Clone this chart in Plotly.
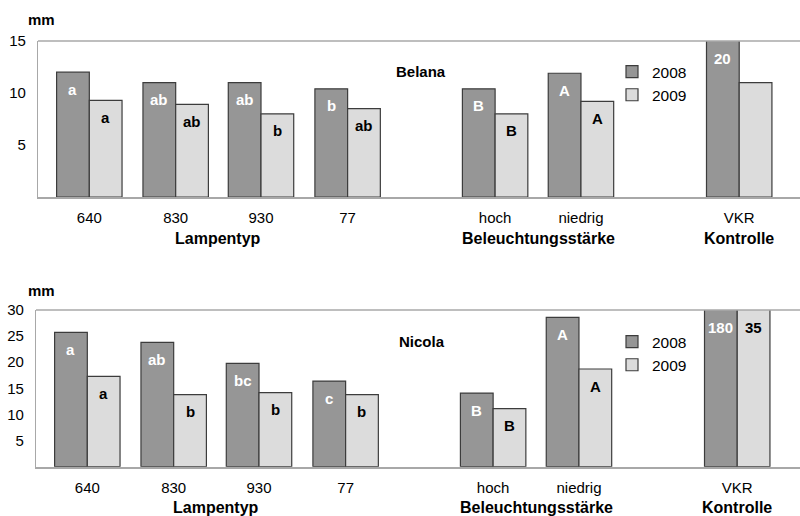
import plotly.graph_objects as go

# ---- data ----
categories = ["640", "830", "930", "77", "hoch", "niedrig", "VKR"]
groups = ["Lampentyp", "Beleuchtungsstärke", "Kontrolle"]
group_members = [[0, 1, 2, 3], [4, 5], [6]]
years = ["2008", "2009"]

belana_2008 = [12.0, 11.0, 11.0, 10.4, 10.4, 11.9, 20.0]
belana_2009 = [9.3, 8.9, 8.0, 8.5, 8.0, 9.2, 11.0]
belana_letters_2008 = ["a", "ab", "ab", "b", "B", "A", "20"]
belana_letters_2009 = ["a", "ab", "b", "ab", "B", "A", ""]

nicola_2008 = [25.7, 23.8, 19.8, 16.4, 14.1, 28.6, 180.0]
nicola_2009 = [17.3, 13.8, 14.2, 13.8, 11.1, 18.7, 35.0]
nicola_letters_2008 = ["a", "ab", "bc", "c", "B", "A", "180"]
nicola_letters_2009 = ["a", "b", "b", "b", "B", "A", "35"]

belana_ticks = [5, 10, 15]
nicola_ticks = [5, 10, 15, 20, 25, 30]

# ---- layout helpers (positions / styles) ----
x_pos = [0, 1.003, 1.994, 3.0, 4.713, 5.71, 7.548]
BAR_W = 0.38
C08 = "#969696"
C09 = "#dcdcdc"
OUT = "#3c3c3c"
AX = "#a8a8a8"
FONT = "Liberation Sans, Arial, sans-serif"
W, H = 800, 516

panels = [
    dict(name="Belana", v08=belana_2008, v09=belana_2009, l08=belana_letters_2008,
         l09=belana_letters_2009, ticks=belana_ticks, ymax=15,
         xdom=[38 / W, 1], ydom=[1 - 197 / H, 1 - 41 / H], xr=[-0.596, 8.254],
         mm_y=20, title_xy=(421, 71), legend_y=55, legend="legend"),
    dict(name="Nicola", v08=nicola_2008, v09=nicola_2009, l08=nicola_letters_2008,
         l09=nicola_letters_2009, ticks=nicola_ticks, ymax=30,
         xdom=[36 / W, 1], ydom=[1 - 466.7 / H, 1 - 310 / H], xr=[-0.596, 8.277],
         mm_y=290, title_xy=(422, 341), legend_y=325, legend="legend2"),
]

fig = go.Figure()
annotations = []
shapes = []
layout = {}

for i, p in enumerate(panels):
    xa = "x" if i == 0 else "x2"
    ya = "y" if i == 0 else "y2"
    xkey = "xaxis" if i == 0 else "xaxis2"
    ykey = "yaxis" if i == 0 else "yaxis2"

    for yr, vals, col, off in [(years[0], p["v08"], C08, -BAR_W), (years[1], p["v09"], C09, 0)]:
        fig.add_trace(go.Bar(
            x=x_pos, y=vals, name=yr, xaxis=xa, yaxis=ya,
            width=[BAR_W] * len(x_pos), offset=[off] * len(x_pos),
            marker=dict(color=col, line=dict(color=OUT, width=1.2)),
            legend=p["legend"], showlegend=True, hoverinfo="skip",
        ))

    # letters on bars
    for letters, vals, dx, tc in [(p["l08"], p["v08"], -BAR_W / 2, "white"),
                                   (p["l09"], p["v09"], BAR_W / 2, "black")]:
        for xp, v, t in zip(x_pos, vals, letters):
            if not t:
                continue
            annotations.append(dict(
                x=xp + dx, y=min(v, p["ymax"]), xref=xa, yref=ya,
                text="<b>%s</b>" % t, showarrow=False, yanchor="middle",
                yshift=-17, font=dict(family=FONT, size=15, color=tc)))

    # group titles
    for g, mem in zip(groups, group_members):
        cx = sum(x_pos[m] for m in mem) / len(mem)
        annotations.append(dict(
            x=cx, y=0, xref=xa, yref=ya + " domain", text="<b>%s</b>" % g,
            showarrow=False, yanchor="middle", yshift=-41,
            font=dict(family=FONT, size=16, color="black")))

    # unit label
    annotations.append(dict(
        x=26 / W, y=1 - p["mm_y"] / H, xref="paper", yref="paper", text="<b>mm</b>",
        showarrow=False, xanchor="left", yanchor="middle",
        font=dict(family=FONT, size=15, color="black")))
    # panel title
    annotations.append(dict(
        x=p["title_xy"][0] / W, y=1 - p["title_xy"][1] / H, xref="paper", yref="paper",
        text="<b>%s</b>" % p["name"], showarrow=False, xanchor="center", yanchor="middle",
        font=dict(family=FONT, size=15, color="black")))

    # top border line
    shapes.append(dict(type="line", xref=xa + " domain", yref=ya + " domain",
                       x0=0, x1=1, y0=1, y1=1, line=dict(color=AX, width=1.3)))

    layout[xkey] = dict(
        domain=p["xdom"], range=p["xr"], anchor=ya, automargin=False,
        tickvals=x_pos, ticktext=categories, showgrid=False, zeroline=False,
        showline=True, linecolor=AX, linewidth=2, ticks="",
        tickfont=dict(family=FONT, size=15, color="black"), ticklabelstandoff=6)
    layout[ykey] = dict(
        domain=p["ydom"], range=[0, p["ymax"]], anchor=xa, automargin=False,
        tickvals=p["ticks"], showgrid=False, zeroline=False,
        showline=True, linecolor=AX, linewidth=1.3, ticks="",
        tickfont=dict(family=FONT, size=15, color="black"), ticklabelstandoff=8)
    layout[p["legend"]] = dict(
        x=612 / W, y=1 - p["legend_y"] / H, xanchor="left", yanchor="top",
        bgcolor="rgba(0,0,0,0)", font=dict(family=FONT, size=15.5, color="black"),
        itemclick=False, itemdoubleclick=False)

fig.update_layout(
    width=W, height=H, margin=dict(l=0, r=0, t=0, b=0, pad=0, autoexpand=False),
    paper_bgcolor="white", plot_bgcolor="white",
    barmode="overlay", annotations=annotations, shapes=shapes,
    font=dict(family=FONT, size=15, color="black"),
    **layout,
)

fig.write_html("out.html", config={"displayModeBar": False},
               post_script="document.body.style.margin='0';")
